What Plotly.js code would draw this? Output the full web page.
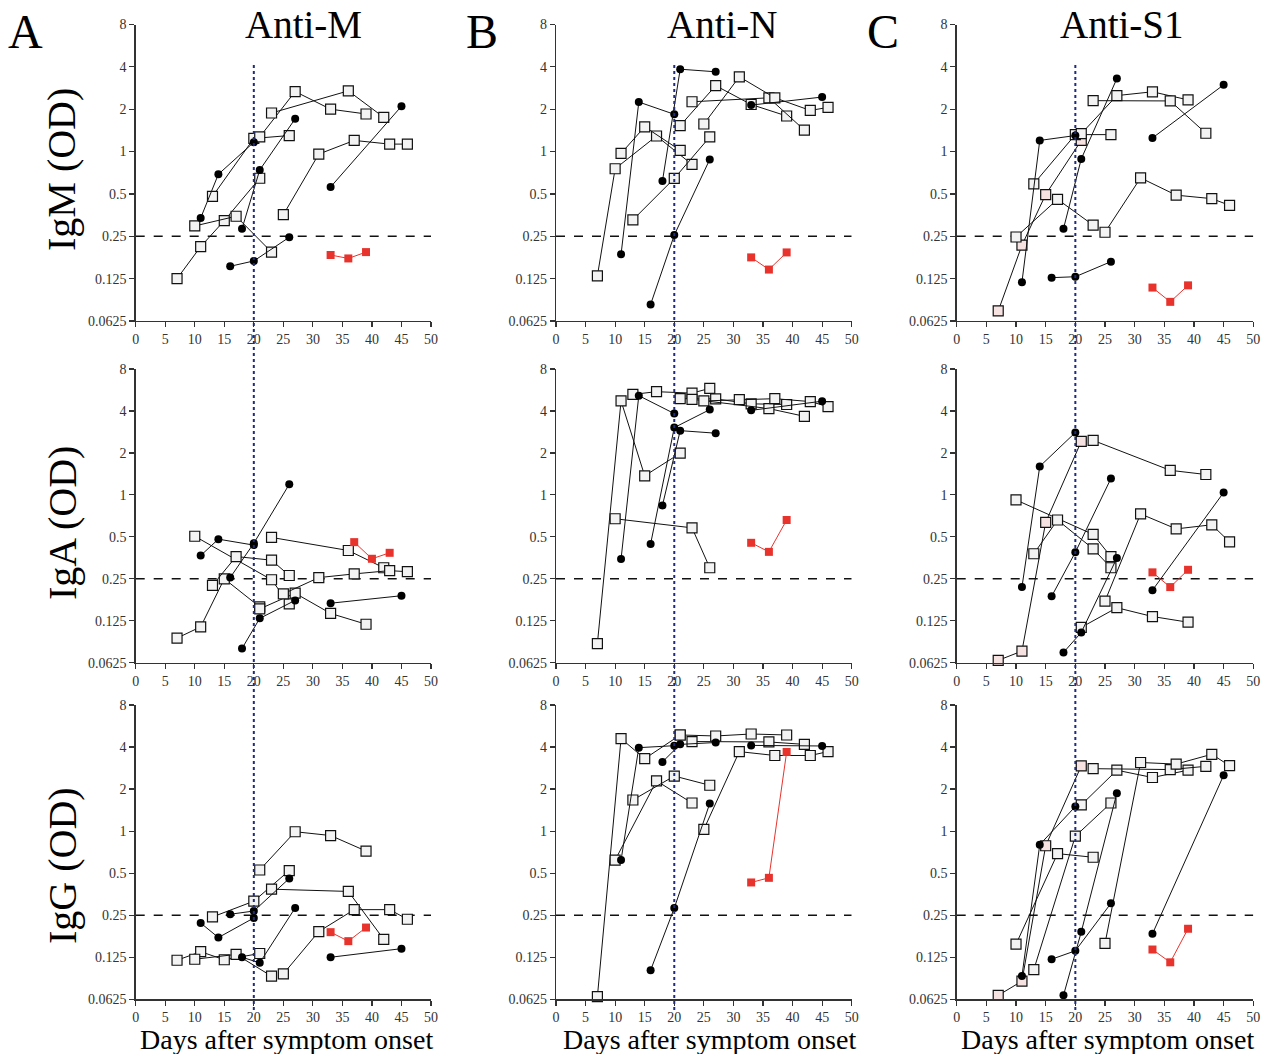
<!DOCTYPE html>
<html><head><meta charset="utf-8">
<script src="https://cdn.plot.ly/plotly-3.0.1.min.js"></script>
<style>html,body{margin:0;padding:0;background:#fff}#chart{width:1269px;height:1054px}</style>
</head><body><div id="chart"></div>
<script>
// ---------- axis / label data ----------
const xTicks = [0,5,10,15,20,25,30,35,40,45,50];
const yTicks = [0.0625,0.125,0.25,0.5,1,2,4,8];
const yTickText = ['0.0625','0.125','0.25','0.5','1','2','4','8'];
const threshold = 0.25;
const cutoffDay = 20;
const antigens = ['Anti-M','Anti-N','Anti-S1'];
const isotypes = ['IgM (OD)','IgA (OD)','IgG (OD)'];
const panelLetters = ['A','B','C'];
const xTitle = 'Days after symptom onset';

// ---------- series: [days, OD] ----------
// IgM
const M_IgM_open = [
  [[7,11,15,21],[0.125,0.211,0.323,0.646]],
  [[10,17,23],[0.296,0.347,0.193]],
  [[13,20,26],[0.48,1.24,1.3]],
  [[21,27,33,39],[1.27,2.67,2.0,1.85]],
  [[23,36,42],[1.88,2.7,1.75]],
  [[25,31,37,43,46],[0.356,0.96,1.2,1.13,1.13]]
];
const M_IgM_filled = [
  [[11,14,20],[0.337,0.69,1.165]],
  [[16,20,26],[0.153,0.167,0.246]],
  [[18,21,27],[0.283,0.74,1.71]],
  [[33,45],[0.56,2.1]]
];
const M_IgM_red = [[33,36,39],[0.184,0.174,0.193]];

const N_IgM_open = [
  [[7,10,17,23],[0.131,0.755,1.29,0.81]],
  [[11,15,21],[0.97,1.5,1.02]],
  [[13,20,26],[0.327,0.644,1.27]],
  [[21,27,33,39],[1.53,2.94,2.16,1.79]],
  [[23,36,42],[2.26,2.41,1.42]],
  [[25,31,37,43,46],[1.57,3.4,2.41,1.96,2.06]]
];
const N_IgM_filled = [
  [[11,14,20],[0.186,2.25,1.84]],
  [[16,20,26],[0.082,0.255,0.88]],
  [[18,21,27],[0.617,3.85,3.69]],
  [[33,45],[2.14,2.44]]
];
const N_IgM_red = [[33,36,39],[0.177,0.145,0.192]];

const S1_IgM_open = [
  [[7,11,15,21],[0.0737,0.216,0.495,1.2]],
  [[10,17,23],[0.247,0.458,0.30]],
  [[13,20,26],[0.59,1.32,1.32]],
  [[21,27,33,39],[1.34,2.5,2.66,2.33]],
  [[23,36,42],[2.3,2.29,1.35]],
  [[25,31,37,43,46],[0.267,0.65,0.49,0.463,0.415]]
];
const S1_IgM_filled = [
  [[11,14,20],[0.118,1.2,1.3]],
  [[16,20,26],[0.127,0.129,0.165]],
  [[18,21,27],[0.283,0.887,3.3]],
  [[33,45],[1.25,2.98]]
];
const S1_IgM_red = [[33,36,39],[0.108,0.0855,0.112]];

// IgA
const M_IgA_open = [
  [[7,11,15,21],[0.0938,0.113,0.25,0.157]],
  [[10,23,26],[0.505,0.246,0.165]],
  [[13,17,23,26],[0.224,0.361,0.34,0.264]],
  [[21,27,33,39],[0.152,0.197,0.141,0.118]],
  [[23,36,42],[0.495,0.399,0.3]],
  [[25,31,37,43,46],[0.195,0.255,0.271,0.286,0.281]]
];
const M_IgA_filled = [
  [[11,14,20],[0.367,0.481,0.436]],
  [[16,20,26],[0.255,0.45,1.19]],
  [[18,21,27],[0.079,0.13,0.175]],
  [[33,45],[0.167,0.189]]
];
const M_IgA_red = [[37,40,43],[0.458,0.348,0.384]];

const N_IgA_open = [
  [[7,11,15,21],[0.0857,4.72,1.37,1.99]],
  [[10,23,26],[0.674,0.58,0.30]],
  [[13,17,23,26],[5.26,5.5,5.37,5.81]],
  [[21,27,33,39],[4.9,4.88,4.5,4.45]],
  [[23,36,42],[4.85,4.16,3.66]],
  [[25,31,37,43,46],[4.72,4.82,4.9,4.67,4.3]]
];
const N_IgA_filled = [
  [[11,14,20],[0.346,5.15,3.83]],
  [[16,20,26],[0.445,3.04,4.09]],
  [[18,21,27],[0.84,2.89,2.77]],
  [[33,45],[4.04,4.7]]
];
const N_IgA_red = [[33,36,39],[0.453,0.39,0.66]];

const S1_IgA_open = [
  [[7,11,15,21],[0.065,0.0757,0.635,2.42]],
  [[10,23,26],[0.92,0.52,0.36]],
  [[13,17,23,26],[0.378,0.66,0.41,0.30]],
  [[21,27,33,39],[0.112,0.155,0.134,0.122]],
  [[23,36,42],[2.46,1.5,1.4]],
  [[25,31,37,43,46],[0.173,0.73,0.57,0.61,0.46]]
];
const S1_IgA_filled = [
  [[11,14,20],[0.218,1.6,2.8]],
  [[16,20,26],[0.187,0.387,1.31]],
  [[18,21,27],[0.074,0.103,0.352]],
  [[33,45],[0.207,1.04]]
];
const S1_IgA_red = [[33,36,39],[0.278,0.218,0.29]];

// IgG
const M_IgG_open = [
  [[7,11,15,21],[0.119,0.137,0.12,0.133]],
  [[10,17,23],[0.121,0.131,0.0915]],
  [[13,20,26],[0.243,0.315,0.522]],
  [[21,27,33,39],[0.527,0.99,0.93,0.72]],
  [[23,36,42],[0.384,0.37,0.168]],
  [[25,31,37,43,46],[0.095,0.191,0.274,0.274,0.234]]
];
const M_IgG_filled = [
  [[11,14,20],[0.22,0.173,0.239]],
  [[16,20,26],[0.254,0.268,0.458]],
  [[18,21,27],[0.125,0.114,0.282]],
  [[33,45],[0.125,0.144]]
];
const M_IgG_red = [[33,36,39],[0.189,0.163,0.204]];

const N_IgG_open = [
  [[7,11,15,21],[0.0653,4.6,3.3,4.88]],
  [[10,17,23],[0.62,2.29,1.59]],
  [[13,20,26],[1.67,2.48,2.13]],
  [[21,27,33,39],[4.88,4.8,4.96,4.88]],
  [[23,36,42],[4.38,4.35,4.18]],
  [[25,31,37,43,46],[1.03,3.71,3.48,3.48,3.71]]
];
const N_IgG_filled = [
  [[11,14,20],[0.62,3.96,4.09]],
  [[16,20,26],[0.101,0.281,1.58]],
  [[18,21,27],[3.13,4.18,4.31]],
  [[33,45],[4.11,4.07]]
];
const N_IgG_red = [[33,36,39],[0.429,0.463,3.69]];

const S1_IgG_open = [
  [[7,11,15,21],[0.0667,0.0843,0.786,2.93]],
  [[10,17,23],[0.155,0.69,0.65]],
  [[13,20,26],[0.102,0.92,1.59]],
  [[21,27,33,39],[1.54,2.73,2.42,2.73]],
  [[23,36,42],[2.8,2.76,2.91]],
  [[25,31,37,43,46],[0.157,3.1,3.02,3.55,2.94]]
];
const S1_IgG_filled = [
  [[11,14,20],[0.0917,0.8,1.5]],
  [[16,20,26],[0.121,0.139,0.304]],
  [[18,21,27],[0.0667,0.19,1.87]],
  [[33,45],[0.184,2.51]]
];
const S1_IgG_red = [[33,36,39],[0.142,0.115,0.2]];

// ---------- grid assembly ----------
const panels = [
  [[M_IgM_open,M_IgM_filled,M_IgM_red],[N_IgM_open,N_IgM_filled,N_IgM_red],[S1_IgM_open,S1_IgM_filled,S1_IgM_red]],
  [[M_IgA_open,M_IgA_filled,M_IgA_red],[N_IgA_open,N_IgA_filled,N_IgA_red],[S1_IgA_open,S1_IgA_filled,S1_IgA_red]],
  [[M_IgG_open,M_IgG_filled,M_IgG_red],[N_IgG_open,N_IgG_filled,N_IgG_red],[S1_IgG_open,S1_IgG_filled,S1_IgG_red]]
];

const W = 1269, H = 1054;
const colPx = [[135.7,431],[556,851.7],[956.7,1253.3]];
const rowPx = [[24.5,321],[369,662.7],[705,999.3]];
const FONT = 'Liberation Serif';
const RED = '#e8332d';
const SQFILL = '#f3f3f3';
const PINKFILL = '#f7e2e2';

const traces = [];
const layout = {
  width: W, height: H,
  margin: {l:0,r:0,t:0,b:0},
  paper_bgcolor: '#fff', plot_bgcolor: 'rgba(0,0,0,0)',
  showlegend: false,
  font: {family: FONT, color: '#222'},
  shapes: [], annotations: []
};

for (let r = 0; r < 3; r++) {
  for (let c = 0; c < 3; c++) {
    const idx = r*3 + c + 1;
    const xa = idx === 1 ? 'x' : 'x' + idx;
    const ya = idx === 1 ? 'y' : 'y' + idx;
    const xk = idx === 1 ? 'xaxis' : 'xaxis' + idx;
    const yk = idx === 1 ? 'yaxis' : 'yaxis' + idx;
    layout[xk] = {
      domain: [colPx[c][0]/W, colPx[c][1]/W], anchor: ya,
      range: [0,50], tickvals: xTicks, ticktext: xTicks.map(String),
      ticks: 'outside', ticklen: 5, tickwidth: 1.2, tickcolor: '#333',
      showline: true, linecolor: '#333', linewidth: 1.3,
      showgrid: false, zeroline: false, fixedrange: true,
      tickfont: {family: FONT, size: 14, color: '#333'}
    };
    layout[yk] = {
      domain: [1 - rowPx[r][1]/H, 1 - rowPx[r][0]/H], anchor: xa,
      type: 'log', range: [Math.log10(yTicks[0]), Math.log10(yTicks[yTicks.length-1])],
      tickvals: yTicks, ticktext: yTickText,
      ticks: 'outside', ticklen: 5, tickwidth: 1.2, tickcolor: '#333',
      showline: true, linecolor: '#333', linewidth: 1.3,
      showgrid: false, zeroline: false, fixedrange: true,
      tickfont: {family: FONT, size: 14, color: '#333'}
    };
    // threshold dashed line
    traces.push({
      x: [xTicks[0], xTicks[xTicks.length-1]], y: [threshold, threshold],
      xaxis: xa, yaxis: ya, mode: 'lines', hoverinfo: 'skip',
      line: {color: '#111', width: 1.5, dash: 'dash'}
    });
    const [openS, filledS, redS] = panels[r][c];
    openS.forEach((s, i) => {
      traces.push({
        x: s[0], y: s[1], xaxis: xa, yaxis: ya, mode: 'lines+markers', cliponaxis: false,
        line: {color: '#111', width: 1},
        marker: {symbol: 'square', size: 10,
          color: (c === 2 && i === 0) ? PINKFILL : SQFILL,
          line: {color: '#111', width: 1.2}}
      });
    });
    filledS.forEach(s => {
      traces.push({
        x: s[0], y: s[1], xaxis: xa, yaxis: ya, mode: 'lines+markers', cliponaxis: false,
        line: {color: '#111', width: 1},
        marker: {symbol: 'circle', size: 8, color: '#000', line: {width: 0}}
      });
    });
    traces.push({
      x: redS[0], y: redS[1], xaxis: xa, yaxis: ya, mode: 'lines+markers', cliponaxis: false,
      line: {color: RED, width: 1},
      marker: {symbol: 'square', size: 8, color: RED, line: {width: 0}}
    });
  }
}

// vertical dotted cutoff line per column (spans all three rows)
for (let c = 0; c < 3; c++) {
  layout.shapes.push({
    type: 'line', xref: c === 0 ? 'x' : 'x' + (c+1), yref: 'paper',
    x0: cutoffDay, x1: cutoffDay, y0: 1 - 1010/H, y1: 1 - 62/H,
    line: {color: '#1f2b80', width: 2, dash: 'dot'}, layer: 'above'
  });
}

// titles and labels
const titleXpx = [303, 722, 1122];
const letterXpx = [25, 482, 883];
const xTitlePx = [286, 709, 1107];
const yTitlePy = [170, 523, 866];
for (let c = 0; c < 3; c++) {
  layout.annotations.push({text: antigens[c], xref:'paper', yref:'paper', x: titleXpx[c]/W, y: 1 - 24/H,
    xanchor:'center', yanchor:'middle', showarrow:false, font:{family: FONT, size: 39, color:'#000'}});
  layout.annotations.push({text: panelLetters[c], xref:'paper', yref:'paper', x: letterXpx[c]/W, y: 1 - 31/H,
    xanchor:'center', yanchor:'middle', showarrow:false, font:{family: FONT, size: 48, color:'#000'}});
  layout.annotations.push({text: xTitle, xref:'paper', yref:'paper', x: xTitlePx[c]/W, y: 1 - 1039/H,
    xanchor:'center', yanchor:'middle', showarrow:false, font:{family: FONT, size: 28, color:'#000'}});
}
for (let r = 0; r < 3; r++) {
  layout.annotations.push({text: isotypes[r], xref:'paper', yref:'paper', x: 62/W, y: 1 - yTitlePy[r]/H,
    xanchor:'center', yanchor:'middle', textangle: -90, showarrow:false, font:{family: FONT, size: 40, color:'#000'}});
}

Plotly.newPlot('chart', traces, layout, {displayModeBar: false, staticPlot: true});
</script>
</body></html>
